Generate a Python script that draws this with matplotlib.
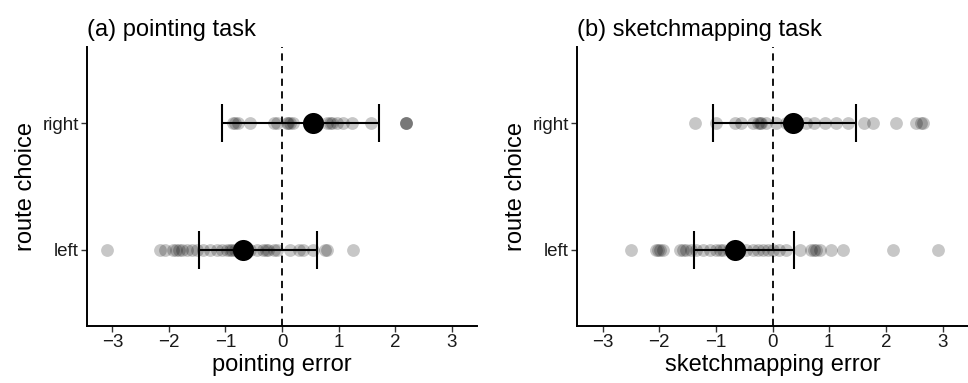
import matplotlib
matplotlib.use("Agg")
import matplotlib.pyplot as plt

plt.rcParams['font.family'] = ['Liberation Sans', 'DejaVu Sans']

categories = ['left', 'right']
x_ticks = [-3, -2, -1, 0, 1, 2, 3]

pointing_left = [-3.10, -2.16, -2.07, -1.92, -1.88, -1.83, -1.77, -1.68, -1.60, -1.51,
                 -1.39, -1.27, -1.15, -1.07, -0.98, -0.92, -0.88, -0.83, -0.78, -0.74,
                 -0.64, -0.57, -0.45, -0.33, -0.28, -0.24, -0.15, -0.09, 0.14, 0.30,
                 0.38, 0.55, 0.76, 0.80, 1.26]
pointing_right = [-0.86, -0.83, -0.77, -0.57, -0.15, -0.09, 0.08, 0.11, 0.14, 0.20,
                  0.79, 0.85, 0.88, 0.97, 1.08, 1.23, 1.58, 2.20, 2.20, 2.20]
sketch_left = [-2.50, -2.05, -2.02, -1.99, -1.93, -1.64, -1.58, -1.52, -1.43, -1.35,
               -1.23, -1.11, -0.99, -0.93, -0.88, -0.76, -0.70, -0.62, -0.58, -0.46,
               -0.35, -0.26, -0.17, -0.08, 0.01, 0.12, 0.24, 0.48, 0.68, 0.74,
               0.77, 0.83, 1.04, 1.24, 2.12, 2.92]
sketch_right = [-1.36, -0.99, -0.67, -0.55, -0.35, -0.26, -0.22, -0.20, -0.11, 0.06,
                0.24, 0.59, 0.74, 0.92, 1.12, 1.33, 1.62, 1.77, 2.18, 2.53, 2.62, 2.65]

pointing_mean = [-0.69, 0.54]
pointing_low = [-1.47, -1.07]
pointing_high = [0.62, 1.72]
sketch_mean = [-0.66, 0.37]
sketch_low = [-1.39, -1.05]
sketch_high = [0.38, 1.48]

panels = [
    dict(title='(a) pointing task', xlabel='pointing error',
         pts=[pointing_left, pointing_right], mean=pointing_mean,
         lo=pointing_low, hi=pointing_high),
    dict(title='(b) sketchmapping task', xlabel='sketchmapping error',
         pts=[sketch_left, sketch_right], mean=sketch_mean,
         lo=sketch_low, hi=sketch_high),
]

fig = plt.figure(figsize=(9.68, 3.83), dpi=100)
rects = [[87 / 968, 57 / 383, 390 / 968, 279 / 383],
         [577 / 968, 57 / 383, 391 / 968, 279 / 383]]

for rect, p in zip(rects, panels):
    ax = fig.add_axes(rect)
    ax.axvline(0, color='black', linestyle=(0, (4, 3)), linewidth=1.3, zorder=1)
    for i, vals in enumerate(p['pts']):
        ax.scatter(vals, [i] * len(vals), s=85, color='black', alpha=0.22,
                   linewidths=0, zorder=2)
    for i in range(len(categories)):
        ax.hlines(i, p['lo'][i], p['hi'][i], color='black', linewidth=1.5, zorder=3)
        ax.vlines([p['lo'][i], p['hi'][i]], i - 0.15, i + 0.15, color='black',
                  linewidth=1.5, zorder=3)
    ax.scatter(p['mean'], range(len(categories)), s=230, color='black',
               linewidths=0, zorder=4)
    ax.set_xlim(-3.45, 3.45)
    ax.set_ylim(-0.6, 1.6)
    ax.set_xticks(x_ticks)
    ax.set_xticklabels([str(t).replace('-', '\u2212') for t in x_ticks])
    ax.set_yticks(range(len(categories)))
    ax.set_yticklabels(categories)
    for s in ['top', 'right']:
        ax.spines[s].set_visible(False)
    for s in ['left', 'bottom']:
        ax.spines[s].set_linewidth(1.4)
    ax.tick_params(axis='both', length=4, width=1.0, color='#333333',
                   labelsize=13.5, labelcolor='#1a1a1a', pad=2)
    ax.set_xlabel(p['xlabel'], fontsize=17, labelpad=2)
    ax.set_ylabel('route choice', fontsize=17, labelpad=4)
    ax.set_title(p['title'], fontsize=17, loc='left', pad=8)

fig.savefig('out.png', dpi=100)
